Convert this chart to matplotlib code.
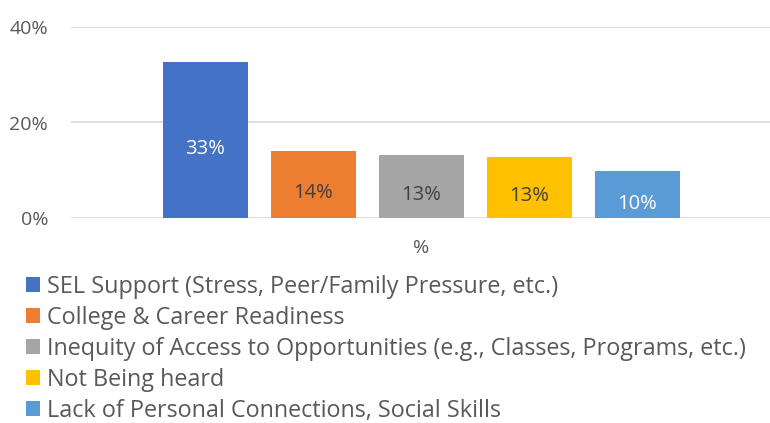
import matplotlib
matplotlib.use("Agg")
import matplotlib.pyplot as plt
from matplotlib.transforms import offset_copy

categories = ["SEL Support (Stress, Peer/Family Pressure, etc.)",
              "College & Career Readiness",
              "Inequity of Access to Opportunities (e.g., Classes, Programs, etc.)",
              "Not Being heard",
              "Lack of Personal Connections, Social Skills"]
values = [32.7, 14.1, 13.2, 12.8, 9.8]
labels = ["33%", "14%", "13%", "13%", "10%"]
colors = ["#4472C4", "#ED7D31", "#A5A5A5", "#FFC000", "#5B9BD5"]
label_colors = ["white", "#404040", "#404040", "#404040", "white"]
yticks = [0, 20, 40]
ytick_labels = ["0%", "20%", "40%"]

plt.rcParams['font.family'] = ['Open Sans', 'DejaVu Sans']
W, H = 770, 423
fig = plt.figure(figsize=(W/100, H/100), dpi=100)
ax = fig.add_axes([71/W, 1-218/H, 1-71/W, (218-27)/H])

x = list(range(len(values)))
bars = ax.bar(x, values, width=85/108, color=colors, zorder=3)
ax.set_xlim((71-205.5)/108, (770-205.5)/108)
ax.set_ylim(0, 40)
ax.set_yticks(yticks)
ax.set_yticklabels(ytick_labels, fontsize=14, color="#595959")
ax.set_xticks([])
ax.grid(axis='y', color="#D9D9D9", linewidth=1.2, zorder=0)
for s in ax.spines.values():
    s.set_visible(False)
ax.tick_params(axis='y', length=0, pad=16.5)

for xi, v, lab, c in zip(x, values, labels, label_colors):
    tr = offset_copy(ax.transData, fig=fig, x=0, y=-9, units='dots')
    ax.text(xi, v/2, lab, ha='center', va='center', color=c, fontsize=14.5, transform=tr)

fig.text(421/W, 1-248/H, "%", ha='center', va='center', fontsize=14, color="#595959")

leg = fig.legend(bars, categories, loc='upper left', bbox_to_anchor=(26/W, 1-275/H),
                 frameon=False, fontsize=16.8, handlelength=0.62, handleheight=0.62,
                 handletextpad=0.3, labelspacing=0.30, borderaxespad=0, borderpad=0)
for t in leg.get_texts():
    t.set_color("#595959")

fig.savefig("out.png", dpi=100)
